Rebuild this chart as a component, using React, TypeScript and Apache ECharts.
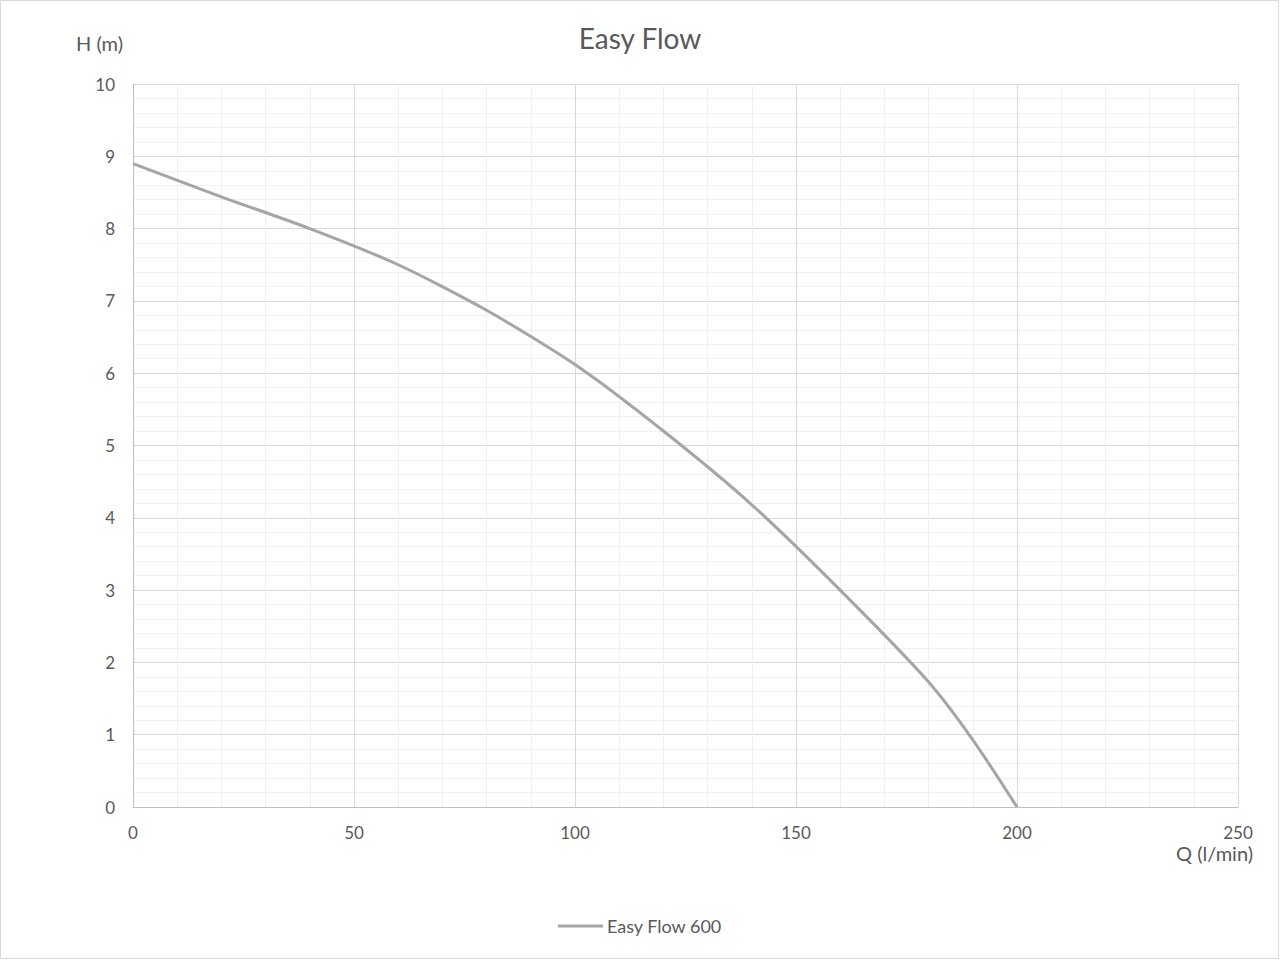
import React, { useEffect, useRef } from "react";
import * as echarts from "echarts";

// Pump performance curve: head H (m) against flow Q (l/min)
const flowQ: number[] = [0, 20, 40, 60, 80, 100, 120, 140, 160, 180, 190, 200];
const headH: number[] = [8.9, 8.44, 8.0, 7.5, 6.87, 6.12, 5.2, 4.18, 3.0, 1.73, 0.93, 0];
const seriesName = "Easy Flow 600";
const chartTitle = "Easy Flow";
const yAxisTitle = "H (m)";
const xAxisTitle = "Q (l/min)";

const FONT = "Lato, 'Open Sans', sans-serif";
const TEXT = "#595959";
const CURVE = "#a5a5a5";

export default function App() {
  const ref = useRef<HTMLDivElement>(null);

  useEffect(() => {
    if (!ref.current) return;
    const chart = echarts.init(ref.current, undefined, { renderer: "svg" });
    chart.setOption({
      animation: false,
      backgroundColor: "#ffffff",
      title: {
        text: chartTitle,
        left: "center",
        top: 19,
        textStyle: { fontFamily: FONT, fontSize: 28, fontWeight: "normal", color: TEXT },
      },
      grid: { left: 133, right: 42, top: 84, bottom: 153, containLabel: false },
      legend: {
        bottom: 20,
        left: "center",
        icon: "rect",
        itemWidth: 45,
        itemHeight: 3,
        itemGap: 5,
        itemStyle: { color: CURVE },
        textStyle: { fontFamily: FONT, fontSize: 18, color: TEXT, padding: [0, 0, 0, -1] },
        data: [seriesName],
      },
      xAxis: {
        type: "value",
        min: 0,
        max: 250,
        interval: 50,
        axisLine: { show: true, lineStyle: { color: "#bfbfbf", width: 1 } },
        axisTick: { show: false },
        minorTick: { show: false, splitNumber: 5 },
        axisLabel: { fontFamily: FONT, fontSize: 17, color: TEXT, margin: 17 },
        splitLine: { show: true, lineStyle: { color: "#d9d9d9", width: 1 } },
        minorSplitLine: { show: true, lineStyle: { color: "#f0f0f0", width: 1 } },
      },
      yAxis: {
        type: "value",
        min: 0,
        max: 10,
        interval: 1,
        axisLine: { show: true, lineStyle: { color: "#bfbfbf", width: 1 } },
        axisTick: { show: false },
        minorTick: { show: false, splitNumber: 5 },
        axisLabel: { fontFamily: FONT, fontSize: 17, color: TEXT, margin: 18 },
        splitLine: { show: true, lineStyle: { color: "#d9d9d9", width: 1 } },
        minorSplitLine: { show: true, lineStyle: { color: "#f0f0f0", width: 1 } },
      },
      series: [
        {
          name: seriesName,
          type: "line",
          data: flowQ.map((q, i) => [q, headH[i]]),
          smooth: 0.25,
          symbol: "none",
          showSymbol: false,
          lineStyle: { color: CURVE, width: 3 },
          itemStyle: { color: CURVE },
        },
      ],
      graphic: [
        {
          type: "rect",
          shape: { x: 0.5, y: 0.5, width: 1278, height: 958 },
          style: { fill: "none", stroke: "#d9d9d9", lineWidth: 1 },
          silent: true,
        },
        {
          type: "text",
          left: 76,
          top: 33,
          style: { text: yAxisTitle, fontFamily: FONT, fontSize: 20, fill: TEXT },
        },
        {
          type: "text",
          left: 1176,
          top: 843,
          style: { text: xAxisTitle, fontFamily: FONT, fontSize: 20, fill: TEXT },
        },
      ],
    });
    return () => chart.dispose();
  }, []);

  return (
    <div
      ref={ref}
      style={{ position: "absolute", left: 0, top: 0, width: 1280, height: 960 }}
    />
  );
}
